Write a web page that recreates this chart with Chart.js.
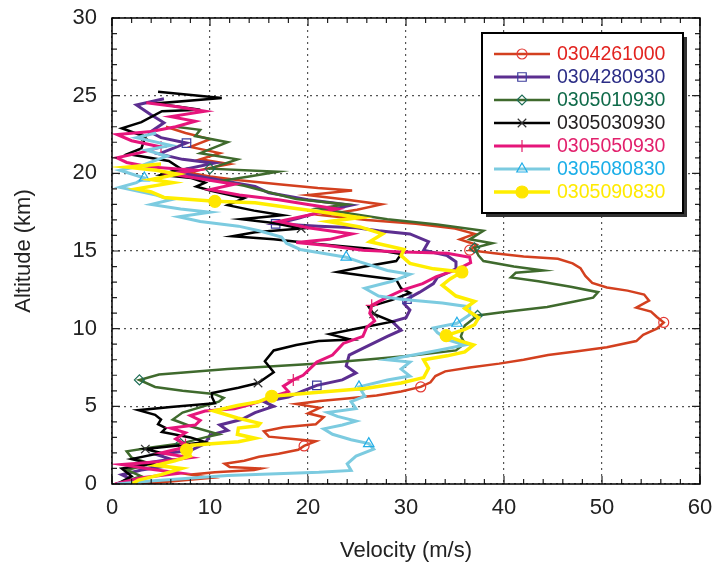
<!DOCTYPE html>
<html>
<head>
<meta charset="utf-8">
<script src="https://cdn.jsdelivr.net/npm/chart.js@4.4.0/dist/chart.umd.min.js"></script>
<style>
  body { margin: 0; background: #fff; }
  #wrap { width: 713px; height: 574px; }
</style>
</head>
<body>
<div id="wrap"><canvas id="perfil" width="713" height="574"></canvas></div>
<script>
// Perfiles de viento: velocidad (m/s) frente a altitud (km), un lanzamiento por serie

const redVel = [3.0,6.5,10.0,8.0,10.5,14.5,15.2,12.0,11.5,13.5,15.0,17.0,19.0,19.6,20.8,18.5,16.0,15.5,17.5,20.8,21.6,20.0,21.2,18.8,21.2,24.0,27.0,29.5,31.5,32.5,33.0,34.0,36.5,39.5,42.0,44.5,47.5,50.5,53.5,54.2,55.6,56.3,55.6,55.0,53.5,54.8,54.3,52.6,50.5,49.0,48.3,47.8,47.0,45.5,42.0,39.0,36.5,37.2,35.5,37.0,35.0,31.0,26.0,21.5,25.0,27.5,24.0,20.0,24.5,21.0,17.0,13.0,10.0,7.8,10.0,12.0,9.0,11.0,8.0,10.0,7.5,5.5];
const redAlt = [0.0,0.2,0.4,0.6,0.75,0.9,1.0,1.1,1.3,1.5,1.75,1.95,2.2,2.45,2.75,2.9,3.05,3.4,3.65,3.85,4.3,4.55,4.9,5.15,5.35,5.5,5.7,5.95,6.25,6.55,6.95,7.25,7.5,7.75,8.0,8.3,8.55,8.8,9.2,9.6,10.0,10.4,10.75,11.1,11.35,11.8,12.2,12.45,12.65,12.95,13.4,13.9,14.2,14.5,14.65,14.85,15.05,15.4,15.75,16.1,16.45,16.75,17.0,17.3,17.65,18.0,18.3,18.6,18.9,19.05,19.3,19.55,19.8,20.05,20.35,20.6,20.9,21.3,21.7,22.2,22.6,23.0];
const redMarks = [2.45, 6.25, 10.4, 15.05, 20.05];

const purpleVel = [0.5,2.0,1.0,3.0,5.0,3.0,6.0,4.5,8.0,9.5,10.0,11.8,11.0,13.2,14.6,16.5,15.5,18.0,19.5,20.9,23.5,24.9,23.9,24.2,25.8,28.1,29.5,28.6,30.0,30.4,29.8,30.1,31.4,32.8,33.2,35.1,35.1,34.2,31.8,32.3,30.4,27.2,24.9,21.1,16.7,19.0,21.1,24.4,20.0,16.0,14.6,11.5,9.0,6.2,10.4,7.2,4.8,7.6,5.0,3.9,5.3,3.9,2.5,5.3];
const purpleAlt = [0.0,0.3,0.6,0.9,1.1,1.3,1.6,1.9,2.15,2.6,3.15,3.45,3.8,4.15,4.6,5.0,5.3,5.6,6.0,6.35,6.7,7.15,7.6,8.3,8.8,9.5,9.9,10.45,10.7,11.2,11.6,11.9,12.35,12.9,13.3,13.85,14.3,14.7,15.05,15.6,16.1,16.3,16.5,16.6,16.75,17.1,17.5,17.95,18.3,18.75,19.15,19.5,19.8,20.1,20.65,20.9,21.25,21.95,22.3,22.65,23.25,23.8,24.4,24.8];
const purpleMarks = [6.35, 11.9, 16.75, 21.95];

const greenVel = [0.5,3.0,1.5,4.0,2.0,1.5,4.0,7.0,9.5,10.9,8.1,6.2,7.2,10.9,11.4,10.4,7.2,4.4,2.8,4.8,11.8,21.1,25.8,30.4,35.1,36.0,35.6,36.0,37.3,39.8,44.4,47.2,49.1,49.6,46.8,43.5,40.7,41.2,44.0,41.0,37.9,37.4,37.0,38.8,36.5,37.9,33.2,28.1,24.4,21.1,23.9,18.8,16.5,13.5,11.0,14.0,16.9,10.0,12.8,9.0,11.8,8.5,9.0,6.5];
const greenAlt = [0.0,0.5,0.9,1.3,1.7,2.1,2.35,2.6,3.0,3.2,3.7,4.15,4.6,5.3,5.55,5.8,6.0,6.25,6.7,7.05,7.4,7.75,8.0,8.25,8.6,9.05,9.5,10.2,10.85,11.05,11.4,11.75,12.0,12.35,12.7,13.05,13.3,13.6,13.75,14.0,14.35,14.7,15.2,15.5,15.75,16.3,16.7,17.05,17.4,17.75,18.0,18.35,18.7,19.2,19.5,19.8,20.1,20.3,20.9,21.3,22.0,22.4,22.8,23.0];
const greenMarks = [2.6, 6.7, 10.85, 15.2, 20.3];

const blackVel = [0.5,2.0,1.0,4.0,2.0,5.0,3.4,7.0,9.5,8.0,5.1,5.5,4.7,5.0,4.4,2.7,6.0,10.5,10.2,10.2,12.9,14.9,16.5,15.6,16.5,18.8,21.1,24.4,22.2,24.9,28.6,26.7,26.2,28.6,30.4,29.5,29.0,25.8,23.0,25.8,29.0,29.5,26.3,21.0,16.5,12.3,14.6,19.3,16.5,13.2,17.4,14.5,11.8,13.5,10.0,8.6,9.5,8.1,5.0,7.0,5.8,1.6,3.0,3.4,1.0,3.0,5.1,9.0,4.5,11.2,4.7];
const blackAlt = [0.0,0.5,1.0,1.3,1.6,2.0,2.25,2.5,2.7,3.0,3.35,3.6,3.85,4.15,4.45,4.75,4.95,5.2,5.6,5.85,6.2,6.5,7.2,7.9,8.6,8.95,9.2,9.3,9.65,10.0,10.45,10.95,11.4,11.85,12.3,12.6,13.15,13.4,13.65,14.0,14.35,14.8,15.15,15.45,15.75,15.95,16.2,16.45,16.8,17.05,17.3,17.6,17.95,18.4,18.9,19.15,19.4,19.7,19.9,20.3,20.8,21.25,21.6,22.35,22.9,23.3,24.0,24.1,24.5,24.85,25.25];
const blackMarks = [2.25, 6.5, 10.95, 16.45, 22.35];

const pinkVel = [0.3,3.0,7.0,4.0,1.0,5.0,8.0,5.0,7.0,7.5,6.5,7.5,6.0,8.5,9.0,8.0,9.5,12.5,14.0,15.5,16.5,18.0,17.5,18.5,19.5,20.9,22.5,23.6,25.6,26.0,26.8,26.3,26.5,28.0,29.7,31.7,33.1,35.2,36.6,36.5,34.2,29.0,25.6,22.0,18.8,22.2,24.5,20.0,17.0,20.0,23.0,20.0,17.0,13.0,10.0,12.5,9.0,6.0,8.5,4.0,1.5,0.5,3.0,5.0,2.0,0.5,4.0,6.5,8.5,6.0,9.5,6.5,3.5];
const pinkAlt = [0.0,0.4,0.7,0.95,1.25,1.45,1.7,2.0,2.3,2.55,2.9,3.3,3.6,3.8,4.1,4.4,4.7,4.85,5.1,5.4,5.65,5.95,6.3,6.7,7.0,7.85,8.3,9.05,9.5,10.1,10.5,11.0,11.5,12.0,12.5,12.9,13.35,13.8,14.25,14.6,14.85,14.95,15.05,15.35,15.55,15.75,16.1,16.5,16.9,17.3,17.7,18.0,18.3,18.6,18.95,19.3,19.65,19.95,20.2,20.4,20.7,21.0,21.35,21.7,22.1,22.5,22.7,23.0,23.35,23.65,24.0,24.3,24.55];
const pinkMarks = [2.55, 6.7, 11.5, 21.7];

const cyanVel = [0.5,3.9,11.8,21.1,24.4,24.0,24.9,26.7,26.2,24.4,22.5,21.6,23.5,24.9,23.0,22.0,24.9,24.4,25.8,25.2,28.1,30.4,29.5,30.4,28.1,33.2,36.0,34.2,33.2,32.8,35.2,36.5,36.5,33.7,29.5,27.2,25.8,28.6,30.4,28.1,25.3,23.9,21.5,19.2,17.8,17.3,15.0,12.9,9.0,6.8,10.0,7.0,4.0,6.0,4.5,0.8,2.5,3.3,0.8,3.0,5.6,3.5,6.0,2.5,4.5];
const cyanAlt = [0.0,0.2,0.55,0.75,0.87,1.3,1.8,2.25,2.6,2.85,3.2,3.55,3.8,4.05,4.35,4.6,4.85,5.3,5.65,6.25,6.7,6.95,7.4,7.85,8.0,8.6,8.95,9.3,9.75,10.05,10.35,10.9,11.4,11.65,11.9,12.1,12.6,13.05,13.5,13.75,14.3,14.6,14.85,15.1,15.5,15.9,16.3,16.6,16.9,17.2,17.5,17.7,18.0,18.3,18.6,19.1,19.4,19.7,20.2,20.5,21.1,21.5,21.8,22.3,22.6];
const cyanMarks = [2.6, 6.25, 10.35, 14.6, 19.7];

const yellowVel = [2.0,2.7,5.0,7.1,4.5,6.4,8.0,7.6,8.1,12.9,14.6,12.8,12.9,14.9,15.1,12.8,10.4,12.8,15.0,16.3,21.1,25.8,29.5,31.8,32.3,31.8,34.2,36.0,36.9,35.6,34.1,36.0,37.0,37.4,36.0,37.0,35.1,33.7,34.5,35.7,32.8,30.4,29.5,29.8,26.3,27.6,25.3,22.1,25.3,21.6,18.0,14.6,10.5,5.3,4.0,2.5,6.2,4.0,6.7,4.5,1.6,5.0];
const yellowAlt = [0.0,0.25,0.6,1.0,1.2,1.5,1.8,2.2,2.5,2.72,2.95,3.2,3.6,3.75,3.9,4.25,4.7,5.05,5.3,5.65,5.9,6.15,6.5,6.85,7.45,8.0,8.25,8.5,8.95,9.2,9.55,9.95,10.25,10.7,11.3,11.75,12.1,12.8,13.2,13.65,13.85,14.2,14.7,15.1,15.6,16.1,16.55,16.9,17.15,17.5,17.8,18.1,18.2,18.45,18.8,19.0,19.4,19.6,19.95,20.2,20.4,20.6];
const yellowMarks = [2.2, 5.65, 9.55, 13.65, 18.2];

const series = [
  { label: '0304261000', vel: redVel, alt: redAlt, marks: redMarks, line: '#d3401f', text: '#e2231f', mark: '#e33a34', style: 'circle', r: 5, width: 2.5, fill: false },
  { label: '0304280930', vel: purpleVel, alt: purpleAlt, marks: purpleMarks, line: '#5c2e90', text: '#2b2d86', mark: '#3d3d9c', style: 'rect', r: 6, width: 3, fill: false },
  { label: '0305010930', vel: greenVel, alt: greenAlt, marks: greenMarks, line: '#3f6a2d', text: '#0f6a49', mark: '#1d6d56', style: 'rectRot', r: 5, width: 2.5, fill: false },
  { label: '0305030930', vel: blackVel, alt: blackAlt, marks: blackMarks, line: '#000000', text: '#231f20', mark: '#333333', style: 'crossRot', r: 6, width: 2.5, fill: false },
  { label: '0305050930', vel: pinkVel, alt: pinkAlt, marks: pinkMarks, line: '#e6157b', text: '#e2206c', mark: '#e2206c', style: 'cross', r: 6, width: 3, fill: false },
  { label: '0305080830', vel: cyanVel, alt: cyanAlt, marks: cyanMarks, line: '#7ccbe0', text: '#1aaee8', mark: '#22aee8', style: 'triangle', r: 6, width: 3, fill: false },
  { label: '0305090830', vel: yellowVel, alt: yellowAlt, marks: yellowMarks, line: '#ffee00', text: '#ffea00', mark: '#ffe600', style: 'circle', r: 6, width: 3.5, fill: true }
];

const tickFont = { family: "'Liberation Sans', Arial, sans-serif", size: 22 };

const datasets = series.map((s, i) => ({
  label: s.label,
  data: s.vel.map((v, k) => ({ x: v, y: s.alt[k] })),
  showLine: true,
  borderColor: s.line,
  borderWidth: s.width,
  tension: 0,
  order: series.length - i,
  pointStyle: s.style,
  pointRadius: s.alt.map(a => s.marks.includes(a) ? s.r : 0),
  pointHoverRadius: 0,
  pointBorderColor: s.mark,
  pointBorderWidth: 1.2,
  pointBackgroundColor: s.fill ? s.mark : 'rgba(0,0,0,0)'
}));

// sin relleno extra por las etiquetas de los extremos: el área la fija layout.padding
function fijarEjes(scale) {
  scale.paddingLeft = 0;
  scale.paddingRight = 0;
  scale.paddingTop = 0;
  scale.paddingBottom = 0;
}

// marco, marcas menores hacia dentro y leyenda con sombra
const marcoPlugin = {
  id: 'marco',
  afterDraw(chart) {
    const ctx = chart.ctx;
    const a = chart.chartArea;
    const xs = chart.scales.x, ys = chart.scales.y;
    ctx.save();
    ctx.strokeStyle = '#222';
    ctx.lineWidth = 1.2;
    ctx.beginPath();
    for (let v = 0; v <= 60; v += 2) {
      const px = xs.getPixelForValue(v);
      const len = v % 10 === 0 ? 8 : 5;
      ctx.moveTo(px, a.bottom); ctx.lineTo(px, a.bottom - len);
      ctx.moveTo(px, a.top); ctx.lineTo(px, a.top + len);
    }
    for (let v = 0; v <= 30; v += 1) {
      const py = ys.getPixelForValue(v);
      const len = v % 5 === 0 ? 8 : 5;
      ctx.moveTo(a.left, py); ctx.lineTo(a.left + len, py);
      ctx.moveTo(a.right, py); ctx.lineTo(a.right - len, py);
    }
    ctx.stroke();
    ctx.strokeStyle = '#000';
    ctx.lineWidth = 1.5;
    ctx.strokeRect(a.left, a.top, a.right - a.left, a.bottom - a.top);

    // leyenda
    const bx = 482, by = 33, bw = 201, bh = 180;
    ctx.fillStyle = '#333';
    ctx.fillRect(bx + 4, by + 4, bw, bh);
    ctx.fillStyle = '#fff';
    ctx.fillRect(bx, by, bw, bh);
    ctx.lineWidth = 2;
    ctx.strokeStyle = '#000';
    ctx.strokeRect(bx, by, bw, bh);
    ctx.font = "19.5px 'Liberation Sans', Arial, sans-serif";
    ctx.textBaseline = 'middle';
    ctx.textAlign = 'left';
    series.forEach((s, i) => {
      const y = 54 + i * 23;
      ctx.strokeStyle = s.line;
      ctx.lineWidth = s.width;
      ctx.beginPath();
      ctx.moveTo(494, y); ctx.lineTo(550, y);
      ctx.stroke();
      ctx.strokeStyle = s.mark;
      ctx.fillStyle = s.fill ? s.mark : 'rgba(0,0,0,0)';
      ctx.lineWidth = 1.2;
      Chart.helpers.drawPoint(ctx, { pointStyle: s.style, radius: s.r, rotation: 0, borderWidth: 1.2 }, 522, y);
      ctx.fillStyle = s.text;
      ctx.fillText(s.label, 557, y + 1);
    });
    ctx.restore();
  }
};

new Chart(document.getElementById('perfil').getContext('2d'), {
  type: 'scatter',
  data: { datasets },
  options: {
    responsive: false,
    animation: false,
    layout: { padding: { top: 18, right: 13, left: 0, bottom: 0 } },
    plugins: { legend: { display: false }, tooltip: { enabled: false } },
    scales: {
      x: {
        type: 'linear', min: 0, max: 60,
        ticks: { stepSize: 10, padding: 11, font: tickFont, color: '#222' },
        grid: { color: '#555', lineWidth: 1.2, drawTicks: false },
        border: { display: false, dash: [2, 4] },
        title: { display: true, text: 'Velocity (m/s)', font: tickFont, color: '#222', padding: { top: 4, bottom: 10 } },
        afterFit(scale) { scale.height = 90; fijarEjes(scale); }
      },
      y: {
        type: 'linear', min: 0, max: 30,
        ticks: { stepSize: 5, padding: 15, font: tickFont, color: '#222' },
        grid: { color: '#555', lineWidth: 1.2, drawTicks: false },
        border: { display: false, dash: [2, 4] },
        title: { display: true, text: 'Altitude (km)', font: tickFont, color: '#222', padding: { top: 11, bottom: 0 } },
        afterFit(scale) { scale.width = 112; fijarEjes(scale); }
      }
    }
  },
  plugins: [marcoPlugin]
});
</script>
</body>
</html>
